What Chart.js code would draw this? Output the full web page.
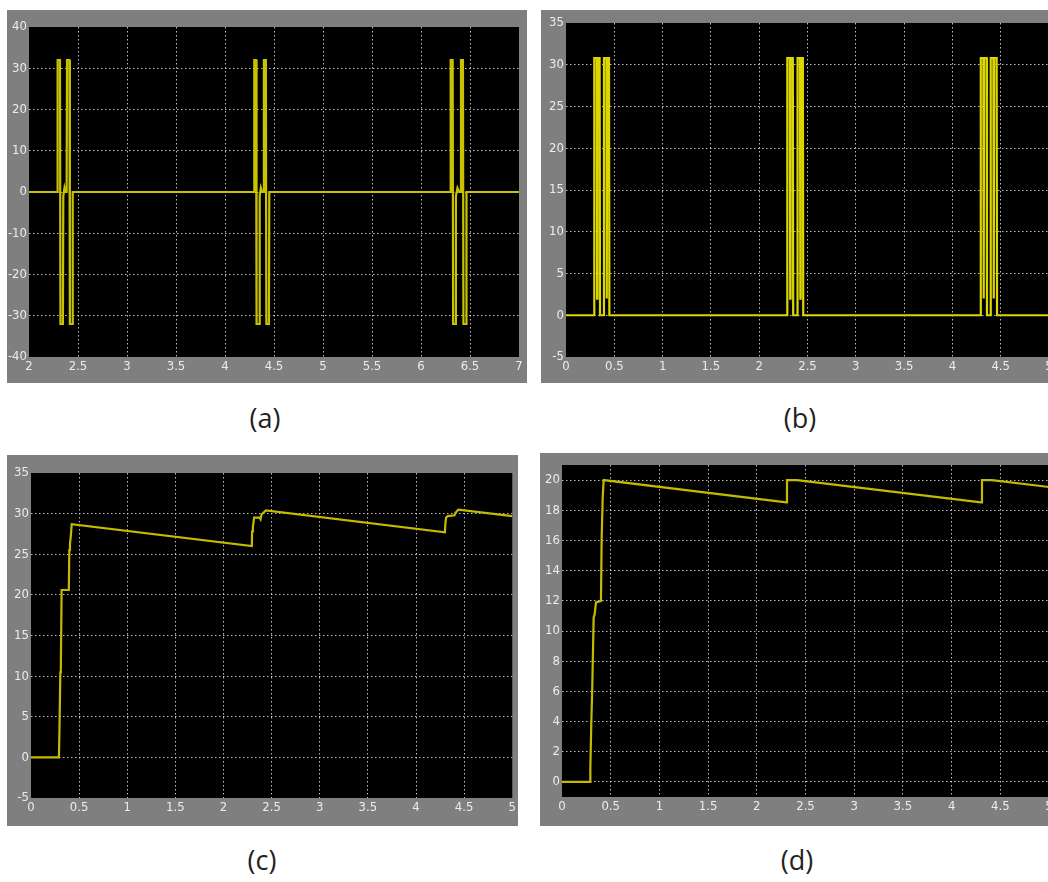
<!DOCTYPE html>
<html>
<head>
<meta charset="utf-8">
<title>Scope outputs</title>
<script src="https://cdn.jsdelivr.net/npm/chart.js@4.4.1/dist/chart.umd.min.js"></script>
<style>
    html, body { margin: 0; padding: 0; background: #fff; width: 1048px; height: 882px; overflow: hidden; }
    .scope { position: absolute; background: #7f7f7f; }
    .scope canvas { display: block; }
    .caption {
        position: absolute; width: 80px; margin-left: -40px; text-align: center;
        font-family: 'Open Sans', 'Liberation Sans', sans-serif; font-size: 27px; color: #222;
    }
</style>
</head>
<body>

<div class="scope" style="left:7px; top:10px; width:520px; height:373px;"><canvas id="scopeA" width="520" height="373"></canvas></div>
<div class="scope" style="left:541px; top:10px; width:523px; height:373px;"><canvas id="scopeB" width="523" height="373"></canvas></div>
<div class="scope" style="left:7px; top:455px; width:511px; height:371px;"><canvas id="scopeC" width="511" height="371"></canvas></div>
<div class="scope" style="left:540px; top:453px; width:524px; height:373px;"><canvas id="scopeD" width="524" height="373"></canvas></div>

<div class="caption" style="left:265px; top:399px;">(a)</div>
<div class="caption" style="left:800px; top:399px;">(b)</div>
<div class="caption" style="left:262px; top:841px;">(c)</div>
<div class="caption" style="left:797px; top:841px;">(d)</div>

<script>
// (a) bipolar pulses
const tA = [2, 2.289, 2.292, 2.316, 2.321, 2.346, 2.350, 2.362, 2.372, 2.384, 2.388, 2.412, 2.417, 2.442, 2.446,
            4.296, 4.299, 4.317, 4.322, 4.350, 4.354, 4.366, 4.378, 4.393, 4.397, 4.417, 4.422, 4.448, 4.452,
            6.300, 6.303, 6.323, 6.328, 6.352, 6.356, 6.372, 6.390, 6.404, 6.408, 6.428, 6.433, 6.460, 6.464, 7];
const vA = [0, 0, 32, 32, -32, -32, -1, 1, 0, 0, 32, 32, -32, -32, 0,
            0, 32, 32, -32, -32, -1, 1, 0, 0, 32, 32, -32, -32, 0,
            0, 32, 32, -32, -32, -1, 1, 0, 0, 32, 32, -32, -32, 0, 0];
const xTicksA = [2, 2.5, 3, 3.5, 4, 4.5, 5, 5.5, 6, 6.5, 7];
const yTicksA = [-40, -30, -20, -10, 0, 10, 20, 30, 40];

// (b) rectified pulses
const tB = [0, 0.290, 0.293, 0.318, 0.322, 0.326, 0.348, 0.352, 0.390, 0.393, 0.418, 0.422, 0.426, 0.445, 0.449,
            2.288, 2.291, 2.317, 2.321, 2.325, 2.348, 2.352, 2.394, 2.397, 2.422, 2.426, 2.430, 2.452, 2.456,
            4.291, 4.294, 4.320, 4.324, 4.328, 4.354, 4.358, 4.394, 4.397, 4.424, 4.428, 4.432, 4.458, 4.462, 5];
const vB = [0, 0, 30.8, 30.8, 2, 30.8, 30.8, 0, 0, 30.8, 30.8, 2, 30.8, 30.8, 0,
            0, 30.8, 30.8, 2, 30.8, 30.8, 0, 0, 30.8, 30.8, 2, 30.8, 30.8, 0,
            0, 30.8, 30.8, 2, 30.8, 30.8, 0, 0, 30.8, 30.8, 2, 30.8, 30.8, 0, 0];
const xTicksB = [0, 0.5, 1, 1.5, 2, 2.5, 3, 3.5, 4, 4.5, 5];
const yTicksB = [-5, 0, 5, 10, 15, 20, 25, 30, 35];

// (c) charging curve
const tC = [0, 0.290, 0.295, 0.305, 0.310, 0.318, 0.393, 0.398, 0.405, 0.412, 0.423,
            2.294, 2.297, 2.305, 2.318, 2.375, 2.385, 2.395, 2.440,
            4.300, 4.305, 4.312, 4.329, 4.400, 4.410, 4.440, 5];
const vC = [0, 0, 3, 10.5, 11, 20.6, 20.6, 25.5, 26.3, 27, 28.7,
            26.0, 27.8, 28.3, 29.5, 29.5, 29.3, 29.9, 30.4,
            27.7, 28.8, 29.5, 29.7, 29.8, 30.1, 30.5, 29.7];
const xTicksC = [0, 0.5, 1, 1.5, 2, 2.5, 3, 3.5, 4, 4.5, 5];
const yTicksC = [-5, 0, 5, 10, 15, 20, 25, 30, 35];

// (d) regulated curve
const tD = [0, 0.289, 0.291, 0.301, 0.311, 0.325, 0.335, 0.349, 0.400, 0.407, 0.418, 0.428,
            2.303, 2.310, 2.413, 4.302, 4.312, 4.415, 5];
const vD = [0, 0, 0.9, 3.9, 6.3, 10.9, 11.1, 11.9, 12, 16.1, 18.9, 20,
            18.52, 20, 20, 18.52, 20, 20, 19.54];
const xTicksD = [0, 0.5, 1, 1.5, 2, 2.5, 3, 3.5, 4, 4.5, 5];
const yTicksD = [0, 2, 4, 6, 8, 10, 12, 14, 16, 18, 20];

const TICK_FONT = { family: "'Liberation Sans Narrow', 'DejaVu Sans Condensed', 'Liberation Sans', sans-serif", size: 13 };
const TICK_COLOR = '#ececec';
const GRID_COLOR = 'rgba(225, 225, 225, 0.85)';

// black plotting area like the Simulink scope
const plotBg = {
    id: 'plotBg',
    beforeDraw: function(chart) {
        const a = chart.chartArea;
        const ctx = chart.ctx;
        ctx.save();
        ctx.fillStyle = '#000';
        ctx.fillRect(a.left, a.top, a.right - a.left, a.bottom - a.top);
        ctx.restore();
    }
};

function gridColor(ctx) {
    const s = ctx.scale;
    if (!ctx.tick || ctx.tick.value <= s.min || ctx.tick.value >= s.max) {
        return 'rgba(0,0,0,0)';
    }
    return GRID_COLOR;
}

function makeScope(id, t, v, cfg) {
    const points = t.map(function(x, i) { return { x: x, y: v[i] }; });
    return new Chart(document.getElementById(id), {
        type: 'line',
        data: {
            datasets: [{
                data: points,
                borderColor: cfg.color,
                borderWidth: 2.2,
                pointRadius: 0,
                tension: 0,
                fill: false
            }]
        },
        options: {
            responsive: false,
            animation: false,
            devicePixelRatio: 1,
            layout: { autoPadding: false, padding: { left: 0, top: cfg.top, right: cfg.right, bottom: 0 } },
            plugins: { legend: { display: false }, tooltip: { enabled: false } },
            scales: {
                x: {
                    type: 'linear',
                    min: cfg.xMin, max: cfg.xMax,
                    afterBuildTicks: function(s) { s.ticks = cfg.xTicks.map(function(val) { return { value: val }; }); },
                    afterFit: function(s) { s.height = cfg.xH; },
                    ticks: { color: TICK_COLOR, font: TICK_FONT, padding: 2, maxRotation: 0, autoSkip: false,
                             callback: function(val) { return String(val); } },
                    grid: { color: gridColor, drawTicks: false, lineWidth: 1 },
                    border: { display: false, dash: [1.5, 2.5] }
                },
                y: {
                    type: 'linear',
                    min: cfg.yMin, max: cfg.yMax,
                    afterBuildTicks: function(s) { s.ticks = cfg.yTicks.map(function(val) { return { value: val }; }); },
                    afterFit: function(s) { s.width = cfg.yW; },
                    ticks: { color: TICK_COLOR, font: TICK_FONT, padding: 2, autoSkip: false,
                             callback: function(val) { return String(val); } },
                    grid: { color: gridColor, drawTicks: false, lineWidth: 1 },
                    border: { display: false, dash: [1.5, 2.5] }
                }
            }
        },
        plugins: [plotBg]
    });
}

makeScope('scopeA', tA, vA, { color: '#c9c200', xMin: 2, xMax: 7, yMin: -40, yMax: 40,
    xTicks: xTicksA, yTicks: yTicksA, top: 17, right: 8, xH: 26, yW: 22 });
makeScope('scopeB', tB, vB, { color: '#dcd700', xMin: 0, xMax: 5, yMin: -5, yMax: 35,
    xTicks: xTicksB, yTicks: yTicksB, top: 13, right: 15, xH: 26, yW: 25 });
makeScope('scopeC', tC, vC, { color: '#c4bb00', xMin: 0, xMax: 5, yMin: -5, yMax: 35,
    xTicks: xTicksC, yTicks: yTicksC, top: 18, right: 5, xH: 28, yW: 24 });
makeScope('scopeD', tD, vD, { color: '#c4bb00', xMin: 0, xMax: 5, yMin: -1, yMax: 21,
    xTicks: xTicksD, yTicks: yTicksD, top: 12, right: 15, xH: 29, yW: 22 });
</script>
</body>
</html>
